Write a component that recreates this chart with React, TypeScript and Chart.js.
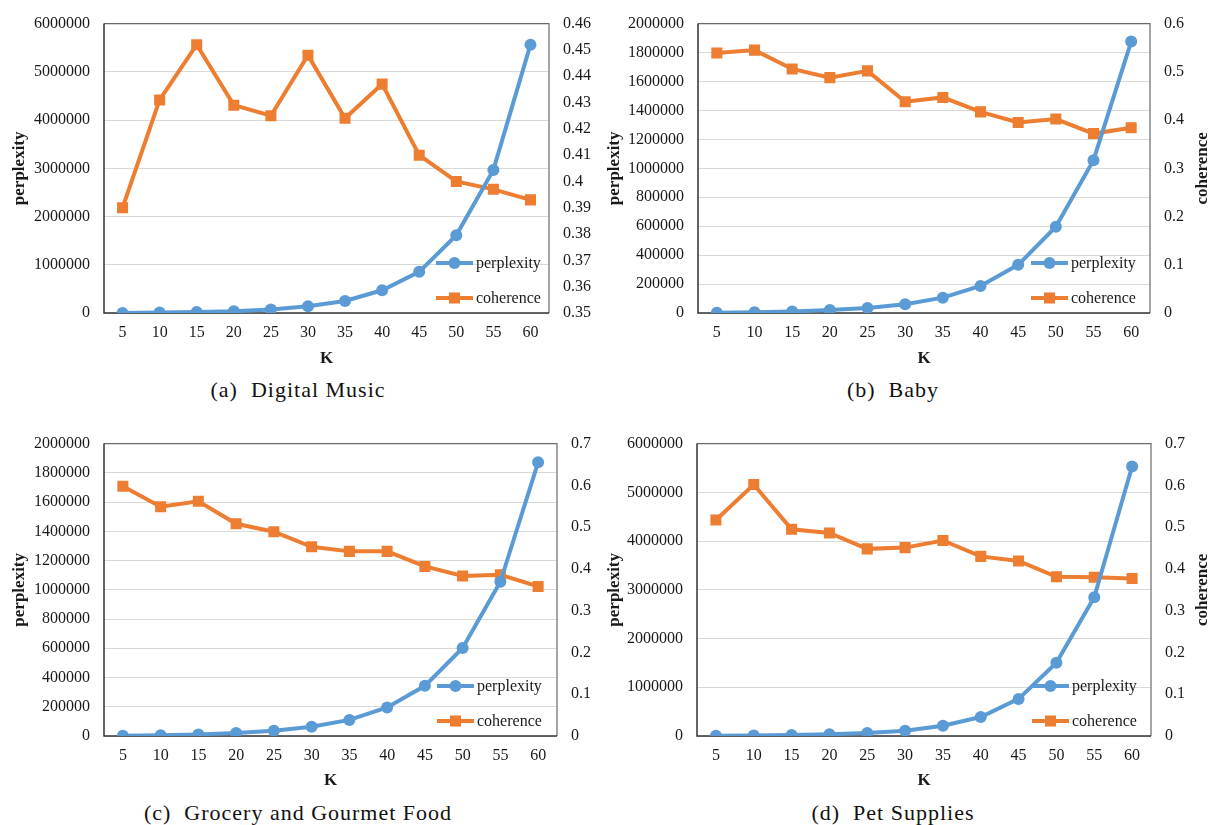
import React, { useEffect, useRef } from 'react';
import { Chart, registerables } from 'chart.js';

Chart.register(...registerables);

// ---------- data ----------
const K_VALUES = ['5', '10', '15', '20', '25', '30', '35', '40', '45', '50', '55', '60'];

const musicPerplexity = [2000, 8000, 20000, 34000, 74000, 141000, 249000, 471000, 854000, 1614000, 2966000, 5563000];
const musicCoherence = [0.39, 0.431, 0.452, 0.429, 0.425, 0.448, 0.424, 0.437, 0.41, 0.4, 0.397, 0.393];

const babyPerplexity = [2000, 5000, 11000, 20000, 34000, 61000, 106000, 187000, 333000, 596000, 1056000, 1876000];
const babyCoherence = [0.539, 0.545, 0.506, 0.488, 0.502, 0.438, 0.447, 0.417, 0.395, 0.402, 0.372, 0.384];

const groceryPerplexity = [2000, 5000, 11000, 20000, 36000, 63000, 110000, 195000, 343000, 602000, 1055000, 1872000];
const groceryCoherence = [0.598, 0.549, 0.562, 0.508, 0.489, 0.453, 0.442, 0.442, 0.406, 0.383, 0.386, 0.358];

const petPerplexity = [3000, 8000, 20000, 34000, 60000, 108000, 209000, 390000, 761000, 1502000, 2848000, 5529000];
const petCoherence = [0.517, 0.602, 0.495, 0.486, 0.448, 0.451, 0.468, 0.43, 0.419, 0.381, 0.38, 0.377];

// axis ranges: [min, max, step]
const musicLeftAxis = [0, 6000000, 1000000];
const musicRightAxis = [0.35, 0.46, 0.01];
const babyLeftAxis = [0, 2000000, 200000];
const babyRightAxis = [0, 0.6, 0.1];
const groceryLeftAxis = [0, 2000000, 200000];
const groceryRightAxis = [0, 0.7, 0.1];
const petLeftAxis = [0, 6000000, 1000000];
const petRightAxis = [0, 0.7, 0.1];

const captions = ['(a)  Digital Music', '(b)  Baby', '(c)  Grocery and Gourmet Food', '(d)  Pet Supplies'];
const SERIES_NAMES = ['perplexity', 'coherence'];
const LEFT_TITLE = 'perplexity';
const RIGHT_TITLE = 'coherence';
const X_TITLE = 'K';

// ---------- styling / layout ----------
const FONT = "'Liberation Serif', 'Times New Roman', serif";
const BLUE = '#5B9BD5';
const ORANGE = '#ED7D31';
const TEXT = '#1a1a1a';

const panels = [
  { perp: musicPerplexity, coh: musicCoherence, left: musicLeftAxis, right: musicRightAxis, caption: captions[0],
    cx: 0, cy: 0, w: 600, h: 373, pl: 5, pt: 16, lw: 99, rw: 51, xh: 60, rightTitle: false, capX: 298, capY: 390, legOff: 113 },
  { perp: babyPerplexity, coh: babyCoherence, left: babyLeftAxis, right: babyRightAxis, caption: captions[1],
    cx: 600, cy: 0, w: 610, h: 373, pl: 0, pt: 16, lw: 98, rw: 60, xh: 60, rightTitle: true, capX: 893, capY: 390, legOff: 119 },
  { perp: groceryPerplexity, coh: groceryCoherence, left: groceryLeftAxis, right: groceryRightAxis, caption: captions[2],
    cx: 0, cy: 420, w: 600, h: 375, pl: 5, pt: 19, lw: 99, rw: 43, xh: 59, rightTitle: false, capX: 298, capY: 813, legOff: 120 },
  { perp: petPerplexity, coh: petCoherence, left: petLeftAxis, right: petRightAxis, caption: captions[3],
    cx: 600, cy: 420, w: 610, h: 375, pl: 0, pt: 19, lw: 97, rw: 59, xh: 59, rightTitle: true, capX: 893, capY: 813, legOff: 119 },
];

const framePlugin = {
  id: 'frame',
  beforeDatasetsDraw(chart: any) {
    const { ctx, chartArea: a } = chart;
    ctx.save();
    ctx.lineWidth = 1.2;
    ctx.strokeStyle = '#6a6a6a';
    ctx.beginPath();
    ctx.moveTo(a.left, a.top);
    ctx.lineTo(a.right, a.top);
    ctx.lineTo(a.right, a.bottom);
    ctx.stroke();
    ctx.strokeStyle = '#333333';
    ctx.lineWidth = 1.5;
    ctx.beginPath();
    ctx.moveTo(a.left, a.top);
    ctx.lineTo(a.left, a.bottom);
    ctx.lineTo(a.right, a.bottom);
    ctx.stroke();
    ctx.restore();
  },
};

const legendPlugin = {
  id: 'insideLegend',
  afterDraw(chart: any, _args: any, opts: any) {
    const { ctx, chartArea: a } = chart;
    const off = (opts && opts.offset) || 116;
    ctx.save();
    ctx.font = `16px ${FONT}`;
    ctx.textBaseline = 'middle';
    ctx.textAlign = 'left';
    chart.data.datasets.forEach((ds: any, i: number) => {
      const y = a.bottom - 50 + i * 35;
      const x0 = a.right - off;
      const x1 = x0 + 37;
      ctx.strokeStyle = ds.borderColor;
      ctx.lineWidth = ds.borderWidth;
      ctx.beginPath();
      ctx.moveTo(x0, y);
      ctx.lineTo(x1, y);
      ctx.stroke();
      ctx.fillStyle = ds.backgroundColor;
      const mx = (x0 + x1) / 2;
      if (ds.pointStyle === 'rect') {
        const s = ds.pointRadius * Math.SQRT1_2;
        ctx.fillRect(mx - s, y - s, 2 * s, 2 * s);
      } else {
        ctx.beginPath();
        ctx.arc(mx, y, ds.pointRadius, 0, Math.PI * 2);
        ctx.fill();
      }
      ctx.fillStyle = TEXT;
      ctx.fillText(ds.label, x1 + 3, y + 1);
    });
    ctx.restore();
  },
};

const rightTitlePlugin = {
  id: 'rightTitle',
  afterDraw(chart: any, _args: any, opts: any) {
    if (!opts || !opts.show) return;
    const { ctx, chartArea: a } = chart;
    ctx.save();
    ctx.translate(opts.x, (a.top + a.bottom) / 2);
    ctx.rotate(-Math.PI / 2);
    ctx.font = `bold 17px ${FONT}`;
    ctx.fillStyle = TEXT;
    ctx.textAlign = 'center';
    ctx.textBaseline = 'middle';
    ctx.fillText(opts.text, 0, 0);
    ctx.restore();
  },
};

function fmtLeft(v: any) {
  return String(Math.round(Number(v)));
}
function fmtRight(v: any) {
  return String(Number(Number(v).toFixed(2)));
}

function ChartPanel({ p }: { p: any }) {
  const ref = useRef<HTMLCanvasElement | null>(null);
  useEffect(() => {
    if (!ref.current) return;
    const tickFont = { family: FONT, size: 16 };
    const titleFont = { family: FONT, size: 17, weight: 'bold' as const };
    const chart = new Chart(ref.current, {
      type: 'line',
      data: {
        labels: K_VALUES,
        datasets: [
          {
            label: SERIES_NAMES[0], data: p.perp, yAxisID: 'y',
            borderColor: BLUE, backgroundColor: BLUE, borderWidth: 4,
            pointStyle: 'circle', pointRadius: 6, pointBorderWidth: 0,
            pointBackgroundColor: BLUE, tension: 0,
          },
          {
            label: SERIES_NAMES[1], data: p.coh, yAxisID: 'y1',
            borderColor: ORANGE, backgroundColor: ORANGE, borderWidth: 4,
            pointStyle: 'rect', pointRadius: 7.8, pointBorderWidth: 0,
            pointBackgroundColor: ORANGE, tension: 0,
          },
        ],
      },
      options: {
        responsive: false,
        animation: false,
        devicePixelRatio: 1,
        layout: { padding: { left: p.pl, top: p.pt, right: 0, bottom: 0 } },
        plugins: {
          legend: { display: false },
          tooltip: { enabled: false },
          insideLegend: { offset: p.legOff },
          rightTitle: { show: p.rightTitle, x: 1203 - p.cx, text: RIGHT_TITLE },
        } as any,
        scales: {
          x: {
            offset: true,
            grid: { display: false, drawTicks: false },
            border: { display: false },
            ticks: { font: tickFont, color: TEXT, padding: 10, maxRotation: 0, autoSkip: false },
            title: { display: true, text: X_TITLE, font: titleFont, color: TEXT, padding: { top: 4, bottom: 4 } },
            afterFit: (s: any) => { s.height = p.xh; },
          },
          y: {
            position: 'left',
            min: p.left[0], max: p.left[1],
            ticks: { stepSize: p.left[2], callback: fmtLeft, font: tickFont, color: TEXT, padding: 14 },
            grid: { color: '#d9d9d9', lineWidth: 1, drawTicks: false },
            border: { display: false },
            title: { display: true, text: LEFT_TITLE, font: titleFont, color: TEXT, padding: { top: 4, bottom: 4 } },
            afterFit: (s: any) => { s.width = p.lw; },
          },
          y1: {
            position: 'right',
            min: p.right[0], max: p.right[1],
            ticks: { stepSize: p.right[2], callback: fmtRight, font: tickFont, color: TEXT, padding: 14 },
            grid: { display: false, drawTicks: false },
            border: { display: false },
            afterFit: (s: any) => { s.width = p.rw; },
          },
        },
      } as any,
      plugins: [framePlugin, legendPlugin, rightTitlePlugin],
    });
    return () => chart.destroy();
  }, []);
  return (
    <canvas
      ref={ref}
      width={p.w}
      height={p.h}
      style={{ position: 'absolute', left: p.cx, top: p.cy, width: p.w, height: p.h }}
    />
  );
}

export default function App() {
  return (
    <div style={{ position: 'absolute', left: 0, top: 0, width: 1210, height: 825, background: '#ffffff', overflow: 'hidden' }}>
      {panels.map((p, i) => (
        <React.Fragment key={i}>
          <ChartPanel p={p} />
          <div
            style={{
              position: 'absolute', left: p.capX - 250, width: 500, top: p.capY - 14, height: 28,
              lineHeight: '28px', textAlign: 'center', fontFamily: FONT, fontSize: 22,
              letterSpacing: '1px', color: '#111', whiteSpace: 'pre',
            }}
          >
            {p.caption}
          </div>
        </React.Fragment>
      ))}
    </div>
  );
}
